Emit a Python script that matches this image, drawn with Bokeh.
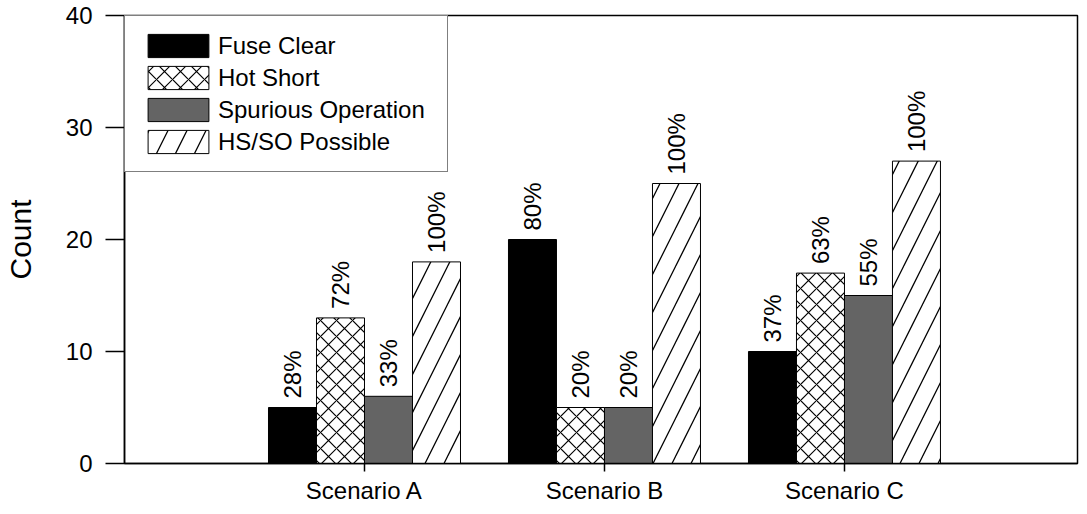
import math
from bokeh.plotting import figure
from bokeh.models import FixedTicker, Legend, LegendItem
from bokeh.core.properties import value
from bokeh.embed import file_html
from bokeh.resources import INLINE

scenarios = ["Scenario A", "Scenario B", "Scenario C"]
series = ["Fuse Clear", "Hot Short", "Spurious Operation", "HS/SO Possible"]
fuse_clear = [5, 20, 10]
hot_short = [13, 5, 17]
spurious_op = [6, 5, 15]
hsso_possible = [18, 25, 27]
fuse_clear_pct = ["28%", "80%", "37%"]
hot_short_pct = ["72%", "20%", "63%"]
spurious_op_pct = ["33%", "20%", "55%"]
hsso_possible_pct = ["100%", "100%", "100%"]
y_ticks = [0, 10, 20, 30, 40]

FONT = "Liberation Sans"
bar_w = 0.2
offsets = [-0.3, -0.1, 0.1, 0.3]
values = [fuse_clear, hot_short, spurious_op, hsso_possible]
pcts = [fuse_clear_pct, hot_short_pct, spurious_op_pct, hsso_possible_pct]

styles = [
    dict(fill_color="black"),
    dict(fill_color="white", hatch_pattern="diagonal_cross", hatch_scale=16, hatch_weight=1.2, hatch_color="black"),
    dict(fill_color="#646464"),
    dict(fill_color="white", hatch_pattern="right_diagonal_line", hatch_scale=38, hatch_weight=1.3, hatch_color="black"),
]

p = figure(width=1079, height=506, x_range=(0, 3.971), y_range=(0, 40),
           output_backend="svg", toolbar_location=None,
           min_border_left=123, min_border_right=2, min_border_top=15, min_border_bottom=43)
p.grid.visible = False
p.outline_line_color = "black"
p.outline_line_width = 1.5
p.background_fill_color = "white"
p.border_fill_color = "white"

xpos = [i + 1 for i in range(len(scenarios))]
items = []
for vals, pc, off, st, name in zip(values, pcts, offsets, styles, series):
    xs = [x + off for x in xpos]
    r = p.vbar(x=xs, top=vals, width=bar_w, bottom=0, line_color="black", line_width=1, **st)
    items.append(LegendItem(label=name, renderers=[r]))
    p.text(x=xs, y=vals, text=pc, angle=math.pi / 2, text_align="left", text_baseline="middle",
           y_offset=-9, text_font=value(FONT), text_font_size="24px", text_color="black")

# axes
p.xaxis.ticker = FixedTicker(ticks=xpos)
p.xaxis.major_label_overrides = {x: s for x, s in zip(xpos, scenarios)}
p.yaxis.ticker = FixedTicker(ticks=y_ticks)
p.yaxis.axis_label = "Count"
for ax in (p.xaxis[0], p.yaxis[0]):
    ax.axis_line_color = "black"
    ax.axis_line_width = 1.5
    ax.major_tick_line_color = "black"
    ax.major_tick_line_width = 1.5
    ax.minor_tick_line_color = None
    ax.major_tick_in = 0
    ax.major_label_text_font = FONT
    ax.major_label_text_font_size = "24px"
    ax.major_label_text_color = "black"
    ax.axis_label_text_font = FONT
    ax.axis_label_text_font_style = "normal"
    ax.axis_label_text_color = "black"
p.xaxis.major_tick_out = 8
p.xaxis.major_label_standoff = 5
p.yaxis.major_tick_out = 19
p.yaxis.major_label_standoff = 13
p.yaxis.axis_label_text_font_size = "30px"
p.yaxis.axis_label_standoff = 26

legend = Legend(items=items, location="top_left", margin=0, padding=15, spacing=3,
                glyph_width=76, glyph_height=29, label_standoff=2, label_width=214, label_height=29,
                label_text_font=FONT, label_text_font_size="24px", label_text_color="black",
                border_line_color="black", border_line_width=1.5, background_fill_color="white",
                background_fill_alpha=1)
p.add_layout(legend)

open("out.html", "w").write(file_html(p, INLINE))
